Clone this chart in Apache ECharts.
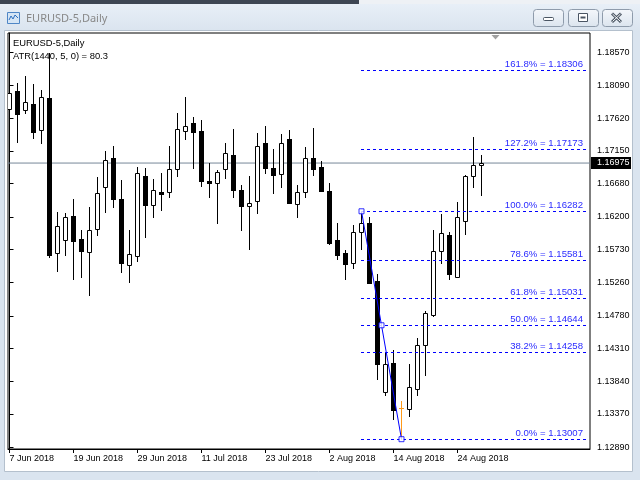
<!DOCTYPE html>
<html><head><meta charset="utf-8">
<script src="https://cdn.jsdelivr.net/npm/echarts@6/dist/echarts.min.js"></script>
<style>html,body{margin:0;padding:0;background:#dae4ef;}#c{width:640px;height:480px;}</style>
</head><body><div id="c"></div>
<script>
const dates = [
 '2018-06-07','2018-06-08','2018-06-11','2018-06-12','2018-06-13','2018-06-14','2018-06-15','2018-06-18','2018-06-19','2018-06-20',
 '2018-06-21','2018-06-22','2018-06-25','2018-06-26','2018-06-27','2018-06-28','2018-06-29','2018-07-02','2018-07-03','2018-07-04',
 '2018-07-05','2018-07-06','2018-07-09','2018-07-10','2018-07-11','2018-07-12','2018-07-13','2018-07-16','2018-07-17','2018-07-18',
 '2018-07-19','2018-07-20','2018-07-23','2018-07-24','2018-07-25','2018-07-26','2018-07-27','2018-07-30','2018-07-31','2018-08-01',
 '2018-08-02','2018-08-03','2018-08-06','2018-08-07','2018-08-08','2018-08-09','2018-08-10','2018-08-13','2018-08-14','2018-08-15',
 '2018-08-16','2018-08-17','2018-08-20','2018-08-21','2018-08-22','2018-08-23','2018-08-24','2018-08-27','2018-08-28','2018-08-29'];
const opens = [
 1.17747,1.18010,1.17733,1.17823,1.17445,1.17909,1.15678,1.15865,1.16214,1.15879,
 1.15692,1.16023,1.16626,1.17043,1.16458,1.15505,1.15643,1.16789,1.16376,1.16554,
 1.16563,1.16885,1.17431,1.17555,1.17435,1.16717,1.16684,1.16885,1.17090,1.16587,
 1.16362,1.16425,1.17263,1.16904,1.16813,1.17320,1.16382,1.16563,1.17047,1.16918,
 1.16573,1.15869,1.15686,1.15534,1.15988,1.16109,1.15280,1.13680,1.14101,1.13450,
 1.13445,1.13732,1.14364,1.14791,1.15706,1.15941,1.15342,1.16149,1.16784,1.16951];
const highs = [
 1.18412,1.18121,1.18226,1.18111,1.18024,1.18556,1.16267,1.16253,1.16454,1.16013,
 1.16347,1.16770,1.17152,1.17220,1.16731,1.16013,1.16922,1.16908,1.16750,1.16836,
 1.17220,1.17698,1.17928,1.17641,1.17593,1.16980,1.16875,1.17259,1.17464,1.16659,
 1.16789,1.17411,1.17507,1.17177,1.17392,1.17450,1.16659,1.17201,1.17478,1.17004,
 1.16684,1.16118,1.15721,1.16084,1.16282,1.16195,1.15376,1.14249,1.14288,1.13555,
 1.14087,1.14461,1.14849,1.16013,1.16250,1.15991,1.16412,1.16800,1.17349,1.17086];
const lows = [
 1.17713,1.17281,1.17690,1.17339,1.17259,1.15620,1.15428,1.15649,1.15304,1.15342,
 1.15079,1.15945,1.16276,1.16347,1.15405,1.15270,1.15571,1.15916,1.16204,1.16300,
 1.16491,1.16789,1.17320,1.16908,1.16645,1.16491,1.16118,1.16756,1.16491,1.16013,
 1.15744,1.16261,1.16836,1.16549,1.16635,1.16395,1.16204,1.16483,1.16803,1.16570,
 1.15811,1.15592,1.15304,1.15474,1.15735,1.15250,1.13871,1.13642,1.13292,1.13007,
 1.13344,1.13642,1.13929,1.14777,1.15543,1.15304,1.15342,1.15955,1.16626,1.16520];
const closes = [
 1.17977,1.17675,1.17848,1.17425,1.17920,1.15658,1.16070,1.16199,1.15859,1.15715,
 1.16008,1.16540,1.17019,1.16462,1.15534,1.15668,1.16827,1.16376,1.16587,1.16530,
 1.16889,1.17460,1.17503,1.17425,1.16721,1.16692,1.16842,1.17115,1.16592,1.16362,
 1.16401,1.17215,1.16908,1.16807,1.17263,1.16405,1.16554,1.17047,1.16885,1.16577,
 1.15821,1.15658,1.15531,1.15981,1.16109,1.15255,1.14091,1.14087,1.13430,1.13450,
 1.13752,1.14356,1.14816,1.15711,1.15970,1.15385,1.16195,1.16789,1.16942,1.16975];
const dateTickIndex = [0,8,16,24,32,40,48,56];
const priceTicks = [1.12890,1.13370,1.13840,1.14310,1.14780,1.15260,1.15730,1.16200,1.16680,1.17150,1.17620,1.18090,1.18570];
const fibLevels = [0.0,38.2,50.0,61.8,78.6,100.0,127.2,161.8];
const fibPrices = [1.13007,1.14258,1.14644,1.15031,1.15581,1.16282,1.17173,1.18306];
const fibHighIdx = 44, fibLowIdx = 49;
const bid = 1.16975;
const symbolTitle = 'EURUSD-5,Daily';
const atrText = 'ATR(1440, 5, 0) = 80.3';

const X_MIN = -0.1875, X_MAX = 72.5625;
const Y_MIN = 1.12866, Y_MAX = 1.18844;
const MONTHS = ['Jan','Feb','Mar','Apr','May','Jun','Jul','Aug','Sep','Oct','Nov','Dec'];
function fmtDate(s){ const p = s.split('-'); return (+p[2]) + ' ' + MONTHS[+p[1]-1] + ' ' + p[0]; }
const AXFONT = '"Liberation Sans", Arial, sans-serif';

function renderCandle(params, api){
  const i = api.value(0), o = api.value(1), c = api.value(2), l = api.value(3), h = api.value(4);
  const pO = api.coord([i,o]), pC = api.coord([i,c]), pL = api.coord([i,l]), pH = api.coord([i,h]);
  const x = Math.floor(pO[0]) + 0.5;
  const yO = Math.round(pO[1]), yC = Math.round(pC[1]);
  const yH = Math.round(pH[1]), yL = Math.round(pL[1]);
  const top = Math.min(yO,yC), bot = Math.max(yO,yC);
  const ch = [];
  if (o === c) {
    const col = '#ff9a1a';
    ch.push({type:'line', shape:{x1:x,y1:yH,x2:x,y2:yL+1}, style:{stroke:col,lineWidth:1}});
    ch.push({type:'line', shape:{x1:x-2.5,y1:yO+0.5,x2:x+2.5,y2:yO+0.5}, style:{stroke:col,lineWidth:1}});
    return {type:'group', children:ch};
  }
  ch.push({type:'line', shape:{x1:x,y1:yH,x2:x,y2:yL+1}, style:{stroke:'#000',lineWidth:1}});
  if (c > o) {
    ch.push({type:'rect', shape:{x:x-2,y:top+0.5,width:4,height:Math.max(1,bot-top)}, style:{fill:'#fff',stroke:'#000',lineWidth:1}});
  } else {
    ch.push({type:'rect', shape:{x:x-2.5,y:top,width:5,height:Math.max(2,bot-top+1)}, style:{fill:'#000'}});
  }
  return {type:'group', children:ch};
}

function renderFib(params, api){
  const price = api.value(1);
  const p = api.coord([api.value(0), price]);
  const cs = params.coordSys;
  const y = Math.round(p[1]) + 0.5;
  const x0 = Math.floor(p[0]);
  const x1 = cs.x + cs.width - 4;
  const lvl = fibLevels[params.dataIndex];
  return {type:'group', children:[
    {type:'line', shape:{x1:x0,y1:y,x2:x1,y2:y}, style:{stroke:'#0000ff',lineWidth:1,lineDash:[3,3]}},
    {type:'text', x:x1-3, y:y-1.5, style:{text: lvl.toFixed(1) + '% = ' + price.toFixed(5), fill:'#2b2bff', font:'9.6px ' + AXFONT, align:'right', verticalAlign:'bottom'}}
  ]};
}

function renderBidBox(params, api){
  const p = api.coord([api.value(0), api.value(1)]);
  const y = Math.round(p[1]);
  const x = Math.round(p[0]);
  return {type:'group', children:[
    {type:'rect', shape:{x:x+1,y:y-6,width:40,height:12}, style:{fill:'#000'}},
    {type:'text', x:x+7, y:y, style:{text: api.value(1).toFixed(5), fill:'#fff', font:'9px ' + AXFONT, verticalAlign:'middle'}}
  ]};
}

const chart = echarts.init(document.getElementById('c'));
const grad = (a,b) => new echarts.graphic.LinearGradient(0,0,0,1,[{offset:0,color:a},{offset:1,color:b}]);
function btn(x,w){ return {type:'rect', z:-90, shape:{x:x+0.5,y:9.5,width:w,height:17,r:3}, style:{fill:grad('#f4f7fb','#dbe4ee'),stroke:'#8e9bab',lineWidth:1}}; }

chart.setOption({
  animation:false,
  backgroundColor:'#dae4ef',
  grid:{left:8, top:33, width:582, height:416, show:true, borderColor:'#000', borderWidth:1, backgroundColor:'#fff'},
  xAxis:{type:'value', min:X_MIN, max:X_MAX, position:'bottom',
    axisLine:{show:true, lineStyle:{color:'#000', width:1}},
    axisTick:{show:true, inside:false, length:4, lineStyle:{color:'#000'}, customValues:dateTickIndex},
    axisLabel:{show:true, customValues:dateTickIndex, formatter:v => fmtDate(dates[v]), align:'left', margin:5, color:'#000', fontSize:9, fontFamily:AXFONT},
    splitLine:{show:false}},
  yAxis:{type:'value', min:Y_MIN, max:Y_MAX, position:'right', scale:true,
    axisLine:{show:true, lineStyle:{color:'#000', width:1}},
    axisTick:{show:true, inside:false, length:4, lineStyle:{color:'#000'}, customValues:priceTicks},
    axisLabel:{show:true, customValues:priceTicks, formatter:v => v.toFixed(5), margin:7, color:'#000', fontSize:9, fontFamily:AXFONT},
    splitLine:{show:false}},
  graphic:{elements:[
    {type:'rect', z:-100, shape:{x:0,y:0,width:640,height:480}, style:{fill:'#dae4ef'}},
    {type:'rect', z:-99, shape:{x:0,y:4,width:640,height:27}, style:{fill:grad('#e8eff7','#dae4ef')}},
    {type:'rect', z:-98, shape:{x:0,y:0,width:359,height:4}, style:{fill:'#3e4653'}},
    {type:'rect', z:-98, shape:{x:359,y:0,width:281,height:4}, style:{fill:'#eef1f5'}},
    {type:'rect', z:-97, shape:{x:4.5,y:30.5,width:628,height:441}, style:{fill:'#fff', stroke:'#b4c0cd', lineWidth:1}},
    {type:'rect', z:-90, shape:{x:7.5,y:12.5,width:12,height:11}, style:{fill:'#d5e5f5', stroke:'#4f86c6', lineWidth:1}},
    {type:'polyline', z:-89, shape:{points:[[9,20],[11,16],[13,19],[15,15],[18,18]]}, style:{stroke:'#2d6fc0', lineWidth:1, fill:null}},
    {type:'text', z:-89, x:26, y:19, style:{text:symbolTitle, fill:'#888', font:'11px "Noto Sans", sans-serif', verticalAlign:'middle'}},
    btn(533,30), btn(568,30), btn(602,30),
    {type:'rect', z:-89, shape:{x:543.5,y:17.5,width:10,height:3,r:1}, style:{fill:'#fff', stroke:'#4a5563', lineWidth:1}},
    {type:'rect', z:-89, shape:{x:578.5,y:13.5,width:9,height:8}, style:{fill:'#fff', stroke:'#4a5563', lineWidth:1}},
    {type:'rect', z:-88, shape:{x:580.5,y:16.5,width:5,height:2}, style:{fill:'#4a5563'}},
    {type:'line', z:-89, shape:{x1:612,y1:13.5,x2:621,y2:22}, style:{stroke:'#4a5563', lineWidth:3}},
    {type:'line', z:-89, shape:{x1:621,y1:13.5,x2:612,y2:22}, style:{stroke:'#4a5563', lineWidth:3}},
    {type:'line', z:-88, shape:{x1:612.5,y1:14,x2:620.5,y2:21.5}, style:{stroke:'#fff', lineWidth:1}},
    {type:'line', z:-88, shape:{x1:620.5,y1:14,x2:612.5,y2:21.5}, style:{stroke:'#fff', lineWidth:1}},
    {type:'polygon', z:100, shape:{points:[[491.5,35],[499.5,35],[495.5,39.5]]}, style:{fill:'#a0a0a0'}},
    {type:'text', z:100, x:13, y:43, style:{text:symbolTitle, fill:'#000', font:'9.4px ' + AXFONT, verticalAlign:'middle'}},
    {type:'text', z:100, x:13, y:56, style:{text:atrText, fill:'#000', font:'9.4px ' + AXFONT, verticalAlign:'middle'}}
  ]},
  series:[
    {type:'line', name:'bid', data:[[X_MIN,bid],[X_MAX,bid]], symbol:'none', silent:true, z:1, lineStyle:{color:'#778899', width:1}},
    {type:'custom', name:'candles', data:dates.map((d,i)=>[i,opens[i],closes[i],lows[i],highs[i]]), encode:{x:0,y:[1,2,3,4]}, renderItem:renderCandle, z:2, clip:true},
    {type:'custom', name:'fibo', data:fibLevels.map((l,i)=>[fibHighIdx,fibPrices[i]]), encode:{x:0,y:1}, renderItem:renderFib, z:3, clip:false},
    {type:'line', name:'fiboTrend', data:[[fibHighIdx,fibPrices[fibLevels.indexOf(100)]],[fibLowIdx,fibPrices[fibLevels.indexOf(0)]]], symbol:'none', silent:true, z:4, lineStyle:{color:'#0000ff', width:1}},
    {type:'scatter', name:'fiboPoints', data:[[fibHighIdx,fibPrices[fibLevels.indexOf(100)]],[(fibHighIdx+fibLowIdx)/2,fibPrices[fibLevels.indexOf(50)]],[fibLowIdx,fibPrices[fibLevels.indexOf(0)]]], symbol:'rect', symbolSize:5, z:5, itemStyle:{color:'#fff', borderColor:'#0000ff', borderWidth:1}},
    {type:'custom', name:'bidLabel', data:[[X_MAX,bid]], encode:{x:0,y:1}, renderItem:renderBidBox, z:6, clip:false}
  ]
});
</script></body></html>
